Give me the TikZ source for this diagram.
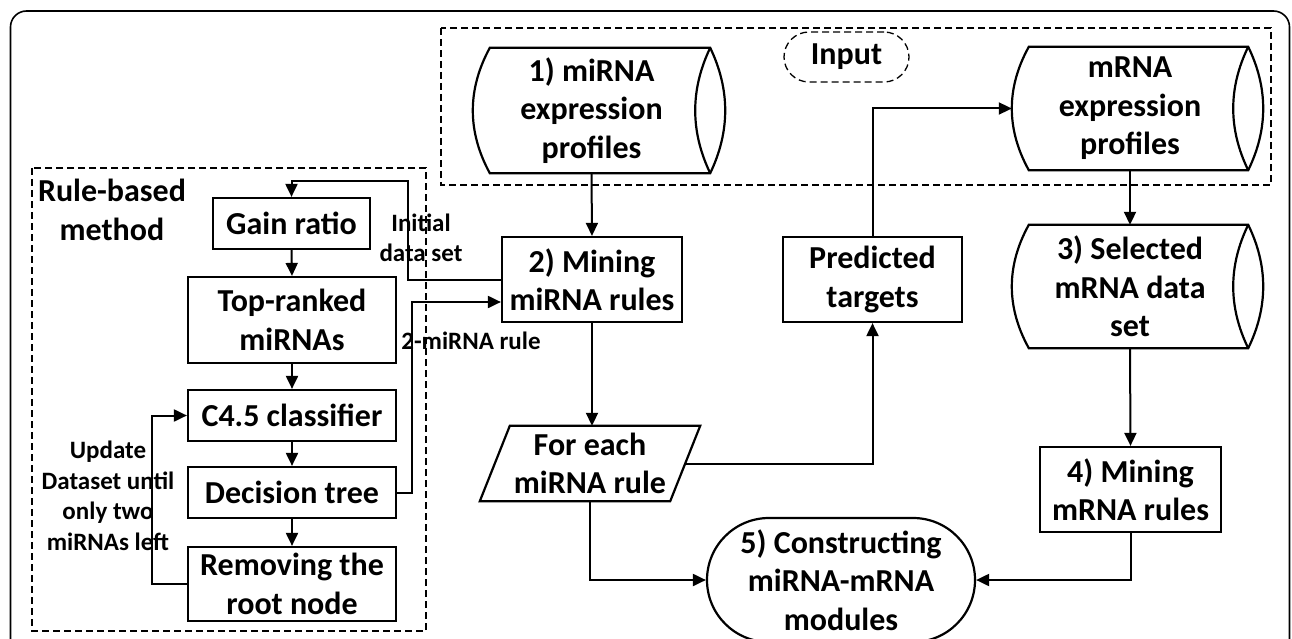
\documentclass[tikz,border=0pt]{standalone}
\usepackage{fontspec}
\setmainfont{Carlito}
\usetikzlibrary{arrows.meta}
\newcommand\bigfnt{\fontsize{32}{38.5}\selectfont\bfseries}
\newcommand\smallfnt{\fontsize{25}{30.5}\selectfont\bfseries}
\begin{document}
\begin{tikzpicture}[x=1pt,y=-1pt,
  shapeline/.style={line width=2.2pt, line join=miter},
  box/.style={draw, shapeline, align=center, inner sep=0pt, font=\bigfnt},
  ghost/.style={align=center, inner sep=0pt, font=\bigfnt},
  lbl/.style={align=center, inner sep=0pt, font=\smallfnt},
  conn/.style={line width=2pt, -{Triangle[length=13pt,width=12pt]}},
  dashbox/.style={draw, line width=1.3pt, dash pattern=on 7pt off 4pt}
]
\useasboundingbox (0,0) rectangle (1292,639);
\clip (0,0) rectangle (1292,639);
% outer frame
\draw[line width=1.6pt, rounded corners=16pt] (10.5,11) rectangle (1289.5,700);

% dashed groups
\draw[dashbox] (441,28) rectangle (1271,185);
\draw[dashbox] (32,168) rectangle (426,631);
\node[dashbox, rounded corners=25pt, minimum width=125pt, minimum height=50pt, font=\bigfnt, inner sep=0pt] (input) at (846.5,57) {Input};
\node[ghost] (rbm) at (112,210) {Rule-based\\method};

% cylinders (text area nodes, outline drawn below)
\node[ghost, minimum width=237pt, minimum height=125pt] (mirna) at (591.5,110.5) {1) miRNA\\expression\\profiles};
\node[ghost, minimum width=236pt, minimum height=123pt] (mrna) at (1130,108.5) {mRNA\\expression\\profiles};
\node[ghost, minimum width=236pt, minimum height=123pt] (sel) at (1130,286.5) {3) Selected\\mRNA data\\set};
\foreach \n/\cy in {mirna/41.67, mrna/41, sel/41}{
  \draw[shapeline] ([xshift=17pt]\n.north west) -- (\n.north east)
     .. controls ([shift={(20,\cy)}]\n.north east) and ([shift={(20,-\cy)}]\n.south east) .. (\n.south east)
     -- ([xshift=17pt]\n.south west)
     .. controls ([shift={(-5.67,-\cy)}]\n.south west) and ([shift={(-5.67,\cy)}]\n.north west) .. ([xshift=17pt]\n.north west) -- cycle;
  \draw[shapeline] (\n.north east) .. controls ([shift={(-20,\cy)}]\n.north east) and ([shift={(-20,-\cy)}]\n.south east) .. (\n.south east);
}

% rectangles
\node[box, minimum width=180pt, minimum height=85pt] (mine2) at (592,279.5) {2) Mining\\miRNA rules};
\node[box, minimum width=179pt, minimum height=85pt] (pred) at (872.5,279.5) {Predicted\\targets};
\node[box, minimum width=181pt, minimum height=85pt] (mine4) at (1130.5,489.5) {4) Mining\\mRNA rules};
\node[box, minimum width=157pt, minimum height=51pt] (gain) at (291.5,223.5) {Gain ratio};
\node[box, minimum width=208pt, minimum height=86pt] (top) at (292,320) {Top-ranked\\miRNAs};
\node[box, minimum width=208pt, minimum height=51pt] (c45) at (292,415.5) {C4.5 classifier};
\node[box, minimum width=208pt, minimum height=51pt] (dtree) at (292,492.5) {Decision tree};
\node[box, minimum width=208pt, minimum height=74pt] (remove) at (292,584) {Removing the\\root node};

% parallelogram
\node[ghost, minimum width=190pt, minimum height=75pt] (fe) at (590,463.5) {For each\\miRNA rule};
\draw[shapeline] ([xshift=15pt]fe.north west) -- ([xshift=15pt]fe.north east) -- ([xshift=-15pt]fe.south east) -- ([xshift=-15pt]fe.south west) -- cycle;

% terminal
\node[box, rounded corners=62pt, minimum width=268pt, minimum height=124pt] (five) at (841,580) {5) Constructing\\miRNA-mRNA\\modules};

% labels
\node[lbl] (linit) at (421,238) {Initial\\data set};
\node[lbl] (l2) at (471,341) {2-miRNA rule};
\node[lbl] (lupd) at (108,496) {Update\\Dataset until\\only two\\miRNAs left};

% connectors
\coordinate (ci) at (408,181);
\coordinate (c2) at (412,302);
\coordinate (cu) at (152,584);

\draw[conn] (mirna.south) -- (mine2.north);
\draw[conn] (mine2.south) -- (mine2.south |- fe.north);
\draw[conn] (fe.south) |- (five.west);
\draw[conn] (fe.east) -| (pred.south);
\draw[conn] (pred.north) |- (mrna.west);
\draw[conn] (mrna.south) -- (sel.north);
\draw[conn] (sel.south) -- (mine4.north);
\draw[conn] (mine4.south) |- (five.east);
\draw[conn] (mine2.west) -| (ci) -| (gain.north);
\draw[conn] (dtree.east) -| (c2) -- (c2 -| mine2.west);
\draw[conn] (remove.west) -- (cu) |- (c45.west);
\draw[conn] (gain.south) -- (top.north);
\draw[conn] (top.south) -- (c45.north);
\draw[conn] (c45.south) -- (dtree.north);
\draw[conn] (dtree.south) -- (remove.north);
\end{tikzpicture}
\end{document}
